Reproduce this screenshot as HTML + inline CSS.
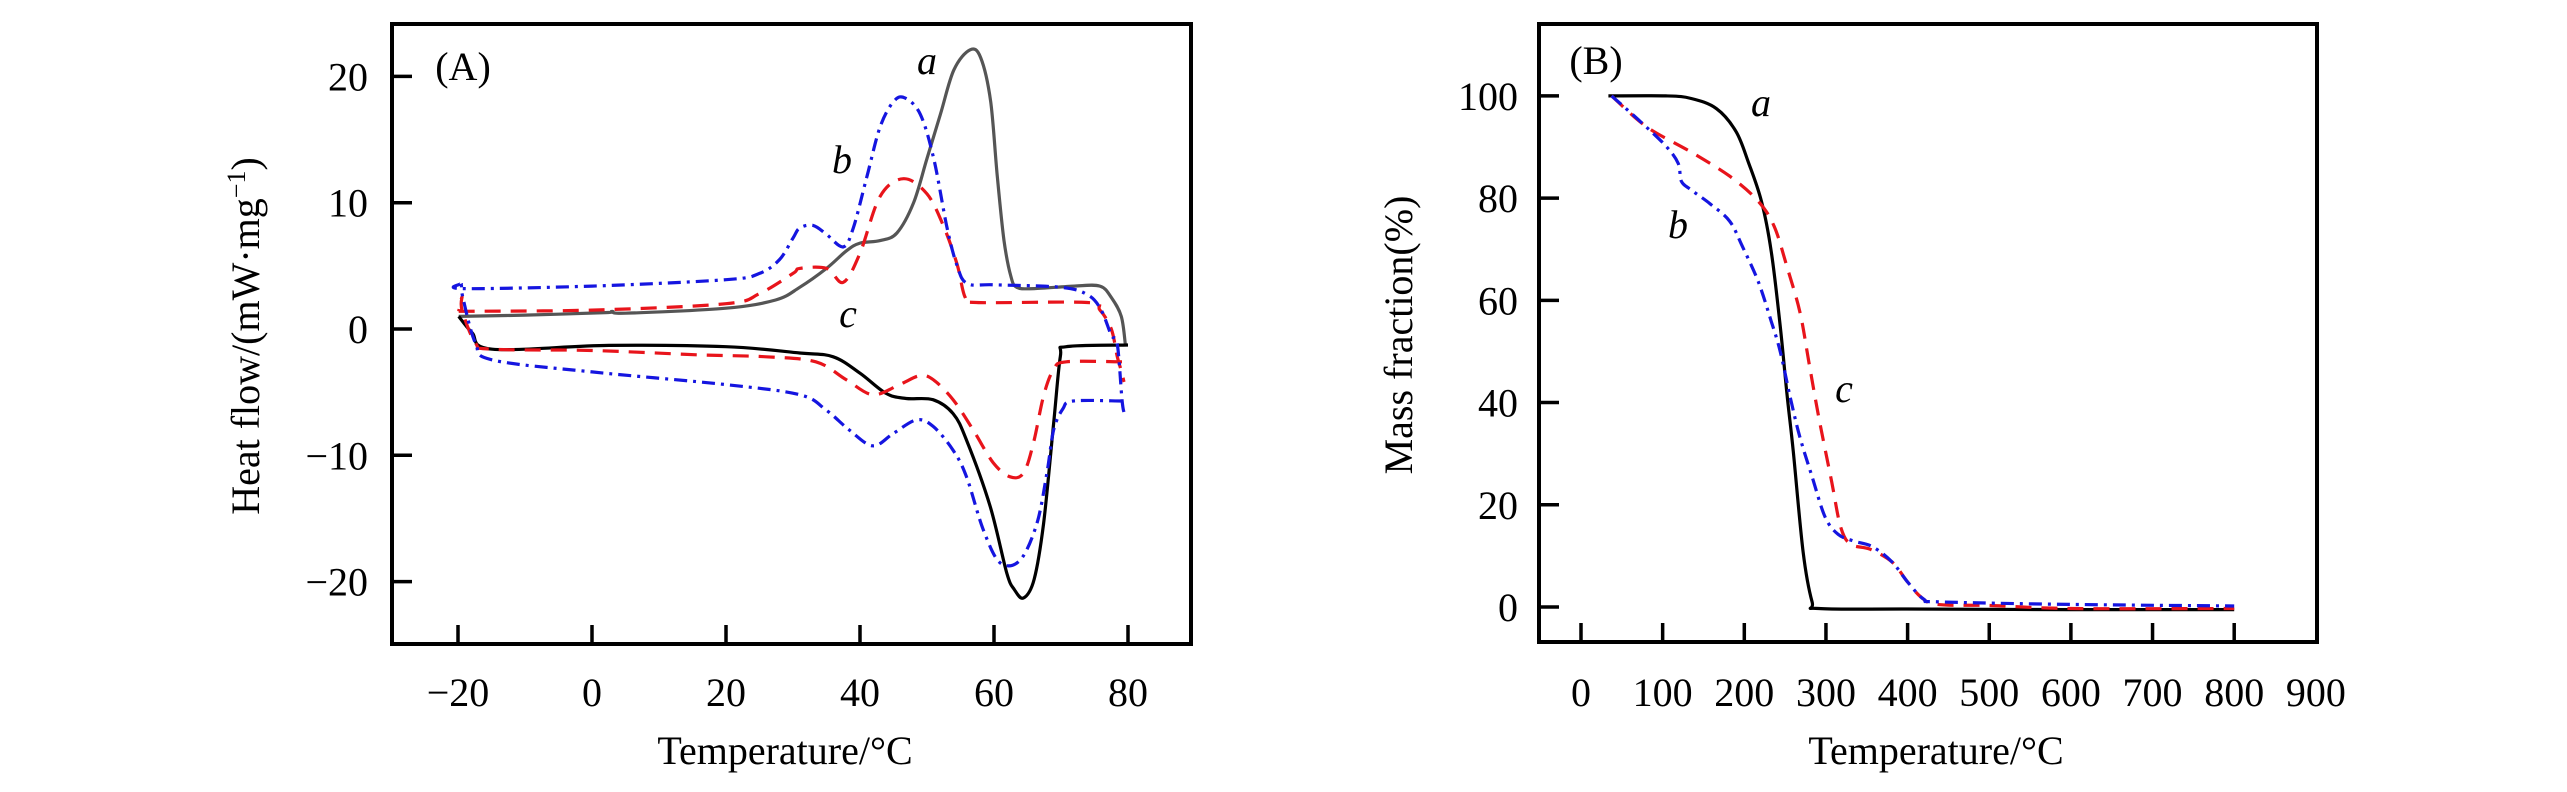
<!DOCTYPE html>
<html><head><meta charset="utf-8"><style>
body{margin:0;background:#fff}
svg text{font-family:"Liberation Serif",serif;fill:#000}
</style></head><body>
<svg id="chart" width="2567" height="787" viewBox="0 0 2567 787" xmlns="http://www.w3.org/2000/svg">
<g id="pa"></g>
<g id="pb"></g>
</svg>
<script>
// Panel A (DSC) data: [temperature, heat flow]
const aTicksX = [-20, 0, 20, 40, 60, 80];
const aTicksY = [-20, -10, 0, 10, 20];
const aHeatA = [[-19.9,1.0],[-10,1.1],[2,1.3],[3,1.4],[5,1.25],[20,1.65],[27.4,2.3],[31,3.3],[35,4.8],[38,6.2],[40,6.8],[43,7.0],[45.5,7.6],[48,10],[50,13.5],[52,17],[54,20.5],[56.4,22.1],[58,21.5],[59.5,18],[60.5,12],[61.5,7],[62.5,4.2],[63.4,3.3],[66,3.2],[72,3.4],[75.8,3.4],[77.5,2.5],[79,1],[79.6,-1.2]];
const aCoolA = [[80,-1.27],[70.8,-1.4],[69.9,-2.2],[68.9,-7.5],[67.4,-15.4],[66,-19.8],[64.4,-21.3],[63,-20.6],[61.9,-19.3],[59.4,-14.0],[55.9,-8.8],[53.9,-6.7],[50.9,-5.6],[46.9,-5.5],[43.9,-5.1],[40,-3.5],[36,-2.2],[31,-1.9],[20,-1.4],[2.5,-1.3],[-14.9,-1.6],[-17.9,-0.3],[-19.9,1.0]];
const bHeatA = [[-19.5,3.6],[-19.2,3.2],[0,3.4],[20,3.9],[25,4.4],[28,5.5],[30,7.2],[31,8.0],[33,8.2],[35,7.5],[37.5,6.5],[39,8],[41,12],[43,16],[45,18],[46.7,18.3],[49,17],[51,13.5],[53,8],[54.5,5],[56,3.6],[60,3.5],[70,3.3],[74,2.7],[76,1.5],[77.5,-0.5],[78.4,-1.2],[79.1,-5.6],[79.4,-6.6]];
const bCoolA = [[79.1,-5.7],[71.8,-5.7],[70.3,-6.3],[68.9,-8.0],[67.9,-11.4],[66.4,-15.4],[63.9,-18.3],[60.9,-18.5],[58.4,-15.9],[55.9,-11.7],[53.9,-9.6],[50.9,-7.7],[48.4,-7.2],[44.9,-8.3],[41.9,-9.25],[38.4,-8.0],[34.9,-6.4],[31,-5.2],[20,-4.4],[0,-3.4],[-14.9,-2.45],[-17.4,-1.1],[-19.2,2.3],[-19.5,3.5]];
const cHeatA = [[-19.9,1.4],[0,1.5],[20,2.0],[25,2.8],[30,4.4],[31,4.8],[35,4.8],[37.5,3.7],[40,6.0],[43,10.5],[46.5,11.9],[50,10.7],[52.5,8.1],[54.5,5.1],[55.7,2.5],[57.4,2.1],[73.9,2.1],[75.8,1.5],[77.5,0],[78.4,-2.2],[79.1,-3.5],[79.4,-4.2]];
const cCoolA = [[79.1,-2.6],[70.8,-2.6],[68.9,-3.2],[67.4,-5.3],[65.9,-9.0],[64.4,-11.4],[62.4,-11.7],[59.9,-10.6],[56.9,-8.0],[53.9,-5.6],[50.9,-4.0],[48.9,-3.7],[45.9,-4.4],[41.9,-5.2],[37.9,-4.0],[33.4,-2.6],[26,-2.2],[16,-2.05],[0,-1.7],[-14.9,-1.6],[-17.4,-1.1],[-19.4,1.5],[-19.4,2.55],[-19.9,1.4]];

// Panel B (TGA) data: [temperature, mass fraction]
const bTicksX = [0,100,200,300,400,500,600,700,800];
const bLabelsX = [0,100,200,300,400,500,600,700,800,900];
const bTicksY = [0,20,40,60,80,100];
const tgaA = [[33.6,100],[104,100],[135,99.5],[166,97.5],[190,93],[205,87],[221,79.4],[233,69.6],[244,55],[252,42],[260,30.4],[272,10.8],[283,1],[291,-0.3],[400,-0.4],[600,-0.5],[800,-0.5]];
const tgaB = [[37.5,100],[72.6,95],[104,90.2],[119,86.8],[123,83.3],[135,81.6],[158,78.9],[182,75.5],[197.5,70.6],[217,63.7],[233,55.9],[244,50],[256,41.2],[268,33.3],[283,25.5],[299,17.6],[315,14.2],[334,12.9],[357,11.8],[381,8.8],[400,4.9],[420,1.5],[440,1],[600,0.5],[800,0.2]];
const tgaC = [[37.5,100],[80,94],[135,89],[182,84.3],[217,79.4],[236.5,74.5],[252,66.7],[268,57.8],[279,48],[291,37.3],[307,24.5],[318,15.7],[330,12.3],[354,11.3],[381,8.8],[400,4.9],[416,2],[436,0.5],[500,0.3],[600,-0.3],[800,-0.3]];

const NS='http://www.w3.org/2000/svg';
function mk(parent,tag,attrs){const e=document.createElementNS(NS,tag);for(const k in attrs)e.setAttribute(k,attrs[k]);parent.appendChild(e);return e;}
function spline(pts){let d='M'+pts[0][0].toFixed(1)+','+pts[0][1].toFixed(1);
 for(let i=0;i<pts.length-1;i++){const p0=pts[Math.max(0,i-1)],p1=pts[i],p2=pts[i+1],p3=pts[Math.min(pts.length-1,i+2)];
  const c1=[p1[0]+(p2[0]-p0[0])/6,p1[1]+(p2[1]-p0[1])/6],c2=[p2[0]-(p3[0]-p1[0])/6,p2[1]-(p3[1]-p1[1])/6];
  d+='C'+c1[0].toFixed(1)+','+c1[1].toFixed(1)+' '+c2[0].toFixed(1)+','+c2[1].toFixed(1)+' '+p2[0].toFixed(1)+','+p2[1].toFixed(1);}
 return d;}

const pa=document.getElementById('pa');
const axL=392,axR=1191,axT=24,axB=644;
const xA=t=>592+6.7*t, yA=v=>329-12.63*v;
function drawLine(g,data,xf,yf,stroke,dash,name,w){
 const p=mk(g,'path',{d:spline(data.map(d=>[xf(d[0]),yf(d[1])])),fill:'none',stroke:stroke,'stroke-width':w||3.2,'stroke-dasharray':dash||'none','stroke-linejoin':'round'});
 
 
}
drawLine(pa,aHeatA,xA,yA,'#555','', 'curve-a-heating');
drawLine(pa,aCoolA,xA,yA,'#000','', 'curve-a-cooling');
drawLine(pa,cHeatA,xA,yA,'#e8141b','16 10', 'curve-c-heating');
drawLine(pa,cCoolA,xA,yA,'#e8141b','16 10', 'curve-c-cooling');
drawLine(pa,bHeatA,xA,yA,'#1515e0','13 6 3 6', 'curve-b-heating');
drawLine(pa,bCoolA,xA,yA,'#1515e0','13 6 3 6', 'curve-b-cooling');
const fa=mk(pa,'rect',{x:axL,y:axT,width:axR-axL,height:axB-axT,fill:'none',stroke:'#000','stroke-width':4});


aTicksX.forEach(t=>{const x=xA(t);
 const tk=mk(pa,'line',{x1:x,x2:x,y1:axB,y2:axB-19,stroke:'#000','stroke-width':3.5});
 
 
 const lb=mk(pa,'text',{x:x,y:706,'font-size':40,'text-anchor':'middle'});lb.textContent=(t<0?'\u2212'+(-t):t);
 
 });
aTicksY.forEach(v=>{const y=yA(v);
 const tk=mk(pa,'line',{x1:axL,x2:axL+20,y1:y,y2:y,stroke:'#000','stroke-width':3.5});
 
 
 const lb=mk(pa,'text',{x:368,y:y+14,'font-size':40,'text-anchor':'end'});lb.textContent=(v<0?'\u2212'+(-v):v);
 
 });

const pb=document.getElementById('pb');
const bL=1539,bR=2317,bT=24,bB=642;
const xB=t=>1581+0.8165*t, yB=v=>607-5.111*v;
drawLine(pb,tgaA,xB,yB,'#000','', 'tga-curve-a');
drawLine(pb,tgaC,xB,yB,'#e8141b','16 10', 'tga-curve-c');
drawLine(pb,tgaB,xB,yB,'#1515e0','13 6 3 6', 'tga-curve-b');
const fb=mk(pb,'rect',{x:bL,y:bT,width:bR-bL,height:bB-bT,fill:'none',stroke:'#000','stroke-width':4});


bTicksX.forEach(t=>{const x=xB(t);
 const tk=mk(pb,'line',{x1:x,x2:x,y1:bB,y2:bB-19,stroke:'#000','stroke-width':3.5});
 
 });
bLabelsX.forEach(t=>{
 const lb=mk(pb,'text',{x:xB(t),y:706,'font-size':40,'text-anchor':'middle'});lb.textContent=t;
 
 });
bTicksY.forEach(v=>{const y=yB(v);
 const tk=mk(pb,'line',{x1:bL,x2:bL+20,y1:y,y2:y,stroke:'#000','stroke-width':3.5});
 
 
 const lb=mk(pb,'text',{x:1518,y:y+14,'font-size':40,'text-anchor':'end'});lb.textContent=v;
 
 });
</script>
<svg style="position:absolute;left:0;top:0" width="2567" height="787" xmlns="http://www.w3.org/2000/svg">
<g font-family="Liberation Serif, serif" font-size="40" fill="#000">
<text x="463" y="80" text-anchor="middle">(A)</text>
<text x="1596" y="74" text-anchor="middle">(B)</text>
<text x="927" y="74" text-anchor="middle" font-style="italic">a</text>
<text x="842" y="173" text-anchor="middle" font-style="italic">b</text>
<text x="848" y="327" text-anchor="middle" font-style="italic">c</text>
<text x="1761" y="116" text-anchor="middle" font-style="italic">a</text>
<text x="1678" y="238" text-anchor="middle" font-style="italic">b</text>
<text x="1844" y="402" text-anchor="middle" font-style="italic">c</text>
<text x="785" y="764" text-anchor="middle">Temperature/°C</text>
<text x="1936" y="764" text-anchor="middle">Temperature/°C</text>
<text transform="translate(259,336) rotate(-90)" text-anchor="middle">Heat flow/(mW·mg<tspan dy="-14" font-size="26">−1</tspan><tspan dy="14">)</tspan></text>
<text transform="translate(1412,335) rotate(-90)" text-anchor="middle">Mass fraction(%)</text>
</g></svg>
</body></html>
